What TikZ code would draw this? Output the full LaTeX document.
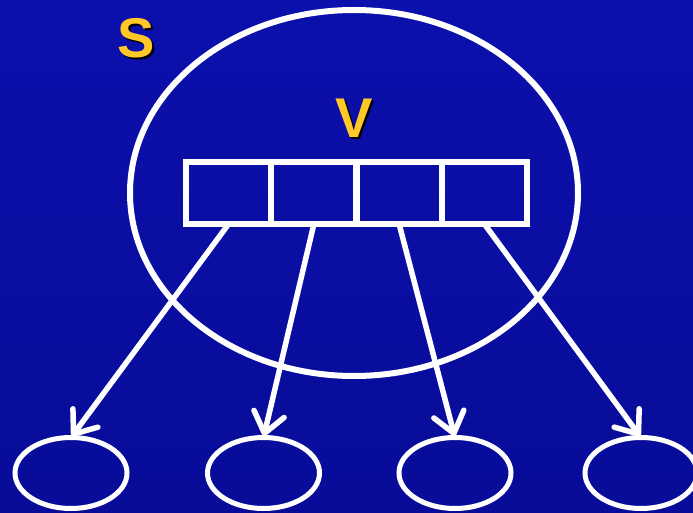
\documentclass[tikz,border=0pt]{standalone}
\usepackage{fontspec}
\setmainfont{Liberation Sans}
\usetikzlibrary{shapes.geometric,arrows.meta}
\definecolor{bgtop}{RGB}{12,16,172}
\definecolor{bgbot}{RGB}{8,12,152}
\definecolor{lettery}{RGB}{255,200,40}
% yellow letter with a small black drop shadow
\newcommand{\shadowletter}[1]{%
  \makebox[0pt][l]{\hspace{2pt}\raisebox{-2pt}{\textcolor{black}{#1}}}%
  \textcolor{lettery}{#1}}
\tikzset{
  cell/.style={draw=white, line width=6pt, rectangle, minimum width=85.25pt,
    minimum height=62pt, inner sep=0pt, outer sep=0pt},
  leaf/.style={draw=white, line width=5pt, ellipse, minimum width=112pt,
    minimum height=71pt, inner sep=0pt, outer sep=0pt},
  setring/.style={draw=white, line width=6pt, ellipse, minimum width=448pt,
    minimum height=366pt, inner sep=0pt, outer sep=0pt},
  arr/.style={draw=white, line width=5.5pt, line cap=round,
    -{Straight Barb[length=20pt, width=31pt, line cap=round, line join=round]},
    shorten >=1.5pt},
  biglabel/.style={font=\fontsize{56}{56}\selectfont\bfseries, inner sep=0pt}
}
\begin{document}
\begin{tikzpicture}[x=1pt,y=1pt]
  % backdrop
  \shade[top color=bgtop, bottom color=bgbot] (0,0) rectangle (693,512);
  \useasboundingbox (0,0) rectangle (693,512);

  % the set S
  \node[setring] (ring) at (354,319) {};
  \node[biglabel] (Slabel) at (136,473) {\shadowletter{S}};

  % the array V
  \node[biglabel] (Vlabel) at (354,393) {\shadowletter{V}};
  \node[cell] (c1) at (228.6,319) {};
  \node[cell] (c2) at (313.9,319) {};
  \node[cell] (c3) at (399.1,319) {};
  \node[cell] (c4) at (484.4,319) {};

  % the elements pointed to
  \node[leaf] (l1) at (71,39) {};
  \node[leaf] (l2) at (263.5,39) {};
  \node[leaf] (l3) at (455,39) {};
  \node[leaf] (l4) at (641,39) {};

  \draw[arr] (c1.south) -- (l1.north);
  \draw[arr] (c2.south) -- (l2.north);
  \draw[arr] (c3.south) -- (l3.north);
  \draw[arr] (c4.south) -- (l4.north);
\end{tikzpicture}
\end{document}
